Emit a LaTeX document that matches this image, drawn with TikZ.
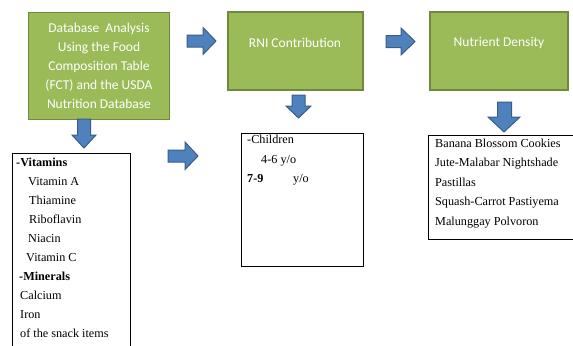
\documentclass[tikz,border=0pt]{standalone}
\usepackage{fontspec}
\setmainfont{Liberation Serif}
\newfontfamily\calfont{Carlito}
\definecolor{gfill}{HTML}{9BBB59}
\definecolor{gedge}{HTML}{71893F}
\definecolor{bfill}{HTML}{4F81BD}
\definecolor{bedge}{HTML}{385D8A}
\begin{document}
\begin{tikzpicture}[x=1bp,y=-1bp,
  gbox/.style={draw=gedge,fill=gfill,line width=1.8bp,inner sep=0pt},
  gtext/.style={text=white,font=\calfont\fontsize{13.5bp}{19bp}\selectfont,align=center,inner sep=0pt},
  listbox/.style={draw=black,line width=0.9bp,inner sep=0pt},
  ltext/.style={anchor=base west,inner sep=0pt,font=\fontsize{12.2bp}{14bp}\selectfont},
  blockarrow/.style={fill=bfill,draw=bedge,line width=1bp,line join=miter}]
\useasboundingbox (0,0) rectangle (573,345);
% green boxes
\node[gbox,minimum width=141bp,minimum height=107bp] (fct) at (99,66) {};
\node[gtext] (fcttext) at (99,65.5) {Database\ \ Analysis\\Using the Food\\Composition Table\\(FCT) and the USDA\\Nutrition Database};
\node[gbox,minimum width=135bp,minimum height=78bp] (rni) at (295.5,51) {};
\node[gtext] (rnitext) at (295,43) {RNI Contribution};
\node[gbox,minimum width=138bp,minimum height=78bp] (nd) at (499,51) {};
\node[gtext] (ndtext) at (499,43) {Nutrient Density};
% list boxes
\node[listbox,minimum width=118bp,minimum height=210bp,anchor=north west] (vit) at (12,153) {};
\node[listbox,minimum width=122bp,minimum height=133bp,anchor=north west] (child) at (241,133) {};
\node[listbox,minimum width=160bp,minimum height=104bp,anchor=north west] (snack) at (428,135) {};
% list 1 text
\node[ltext] (l1) at (16,166) {\textbf{-Vitamins}};
\node[ltext] (l2) at (28,185) {Vitamin A};
\node[ltext] (l3) at (29,204) {Thiamine};
\node[ltext] (l4) at (29,223) {Riboflavin};
\node[ltext] (l5) at (28,242) {Niacin};
\node[ltext] (l6) at (26,261) {Vitamin C};
\node[ltext] (l7) at (19,280) {\textbf{-Minerals}};
\node[ltext] (l8) at (20,299) {Calcium};
\node[ltext] (l9) at (20,318) {Iron};
\node[ltext] (l10) at (20,337) {of the snack items};
% list 2 text
\node[ltext] (c1) at (247,143) {-Children};
\node[ltext] (c2) at (261,163) {4-6 y/o};
\node[ltext] (c3) at (247,182) {\textbf{7-9}};
\node[ltext] (c4) at (293,182) {y/o};
% list 3 text
\node[ltext] (s1) at (435,147) {Banana Blossom Cookies};
\node[ltext] (s2) at (435,166.5) {Jute-Malabar Nightshade};
\node[ltext] (s3) at (435,186) {Pastillas};
\node[ltext] (s4) at (435,205.5) {Squash-Carrot Pastiyema};
\node[ltext] (s5) at (435,225) {Malunggay Polvoron};
% block arrows
\draw[blockarrow] (187,35)--(203,35)--(203,27.5)--(216,41)--(203,54.5)--(203,47)--(187,47)--cycle;
\draw[blockarrow] (386,35.5)--(401,35.5)--(401,28)--(415,41.5)--(401,55)--(401,47.5)--(386,47.5)--cycle;
\draw[blockarrow] (168,150)--(185,150)--(185,142)--(198,156)--(185,169.5)--(185,162)--(168,162)--cycle;
\draw[blockarrow] (77.5,119)--(90.5,119)--(90.5,135)--(96,135)--(84,148)--(72,135)--(77.5,135)--cycle;
\draw[blockarrow] (292,95)--(305,95)--(305,106)--(311,106)--(298.5,118)--(286,106)--(292,106)--cycle;
\draw[blockarrow] (497.5,102)--(511.5,102)--(511.5,117)--(520,117)--(504,132)--(488,117)--(497.5,117)--cycle;
\end{tikzpicture}
\end{document}
